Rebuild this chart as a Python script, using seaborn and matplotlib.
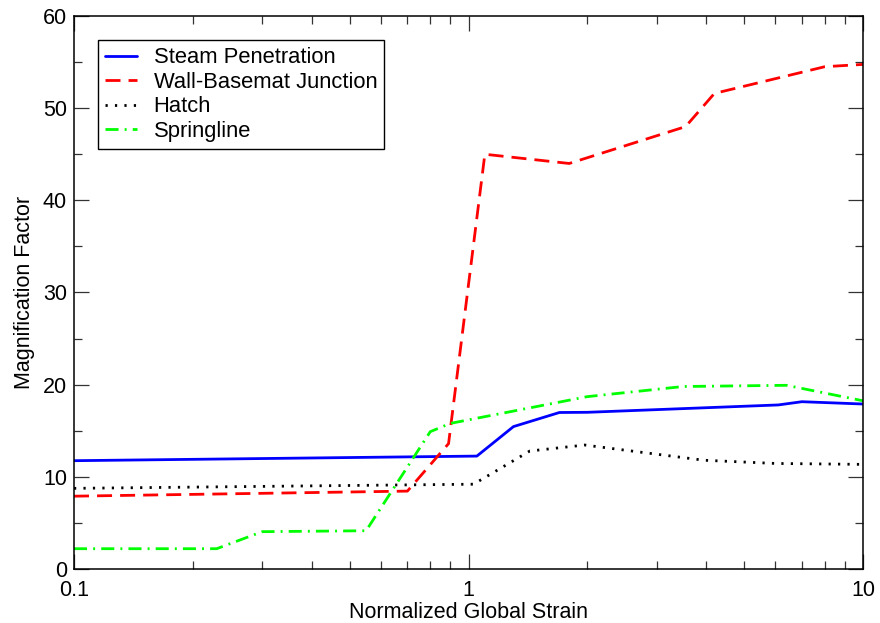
import matplotlib
matplotlib.use("Agg")
import matplotlib.pyplot as plt
import seaborn as sns
import pandas as pd
from matplotlib.ticker import FixedLocator, FixedFormatter, LogLocator, NullFormatter, MultipleLocator

# Magnification factor versus normalized global strain at four liner locations
steam_x = [0.1, 1.05, 1.3, 1.7, 2.0, 6.1, 7.0, 10.0]
steam_y = [11.75, 12.25, 15.45, 16.98, 17.0, 17.8, 18.15, 17.9]

wall_x = [0.1, 0.7, 0.89, 1.1, 1.8, 3.55, 4.2, 8.0, 10.0]
wall_y = [7.9, 8.45, 13.6, 45.0, 44.0, 48.0, 51.6, 54.5, 54.75]

hatch_x = [0.1, 1.03, 1.43, 1.97, 3.95, 6.0, 10.0]
hatch_y = [8.75, 9.2, 12.8, 13.45, 11.8, 11.45, 11.35]

spring_x = [0.1, 0.23, 0.3, 0.55, 0.8, 0.9, 2.0, 3.5, 6.4, 10.0]
spring_y = [2.2, 2.2, 4.05, 4.15, 14.9, 15.8, 18.7, 19.8, 19.93, 18.25]

series_names = ["Steam Penetration", "Wall-Basemat Junction", "Hatch", "Springline"]
series_colors = ["#0000ff", "#ff0000", "#000000", "#00ff00"]
series_dashes = ["", (5.4, 2.9), (0.8, 2.6), (4.7, 2.2, 0.7, 2.2)]

x_ticks = [0.1, 1, 10]
x_tick_labels = ["0.1", "1", "10"]
y_ticks = [0, 10, 20, 30, 40, 50, 60]

frames = []
for name, xs, ys in zip(series_names,
                        [steam_x, wall_x, hatch_x, spring_x],
                        [steam_y, wall_y, hatch_y, spring_y]):
    frames.append(pd.DataFrame({"strain": xs, "factor": ys, "series": name}))
df = pd.concat(frames, ignore_index=True)

sns.set_theme(style="ticks")
plt.rcParams["font.family"] = ["Liberation Sans", "DejaVu Sans"]
plt.rcParams["text.color"] = "black"
plt.rcParams["axes.labelcolor"] = "black"

fig = plt.figure(figsize=(8.8, 6.23), dpi=100)
ax = fig.add_axes([0.0841, 0.0867, 0.8966, 0.8876])

sns.lineplot(data=df, x="strain", y="factor", hue="series", style="series",
             hue_order=series_names, style_order=series_names,
             palette=dict(zip(series_names, series_colors)),
             dashes=dict(zip(series_names, series_dashes)),
             linewidth=2.0, legend=False, ax=ax, estimator=None, sort=False)

ax.set_xscale("log")
ax.set_xlim(0.1, 10)
ax.set_ylim(0, 60)

ax.xaxis.set_major_locator(FixedLocator(x_ticks))
ax.xaxis.set_major_formatter(FixedFormatter(x_tick_labels))
ax.xaxis.set_minor_locator(LogLocator(base=10, subs=range(2, 10)))
ax.xaxis.set_minor_formatter(NullFormatter())
ax.yaxis.set_major_locator(FixedLocator(y_ticks))
ax.yaxis.set_minor_locator(MultipleLocator(5))

ax.tick_params(which="both", direction="in", top=True, right=True,
               labelsize=15.5, colors="#333333", labelcolor="black", width=0.9)
ax.tick_params(which="major", length=11)
ax.tick_params(which="minor", length=5.5)
ax.tick_params(axis="y", which="major", pad=5)
ax.tick_params(axis="x", which="major", pad=8)
for sp in ax.spines.values():
    sp.set_visible(True)
    sp.set_color("black")
    sp.set_linewidth(1.1)

ax.set_xlabel("Normalized Global Strain", fontsize=15.5, labelpad=1)
ax.set_ylabel("Magnification Factor", fontsize=15.5, labelpad=6)

lines = ax.get_lines()[:4]
leg = ax.legend(lines, series_names, loc="upper left", bbox_to_anchor=(0.0304, 0.9566),
                borderaxespad=0, fontsize=15.8, frameon=True, fancybox=False,
                handlelength=1.45, handletextpad=0.75, labelspacing=0.16,
                borderpad=0.33)
leg.get_frame().set_edgecolor("black")
leg.get_frame().set_linewidth(1.0)
leg.get_frame().set_alpha(1)

fig.savefig("out.png", dpi=100, facecolor="white")
